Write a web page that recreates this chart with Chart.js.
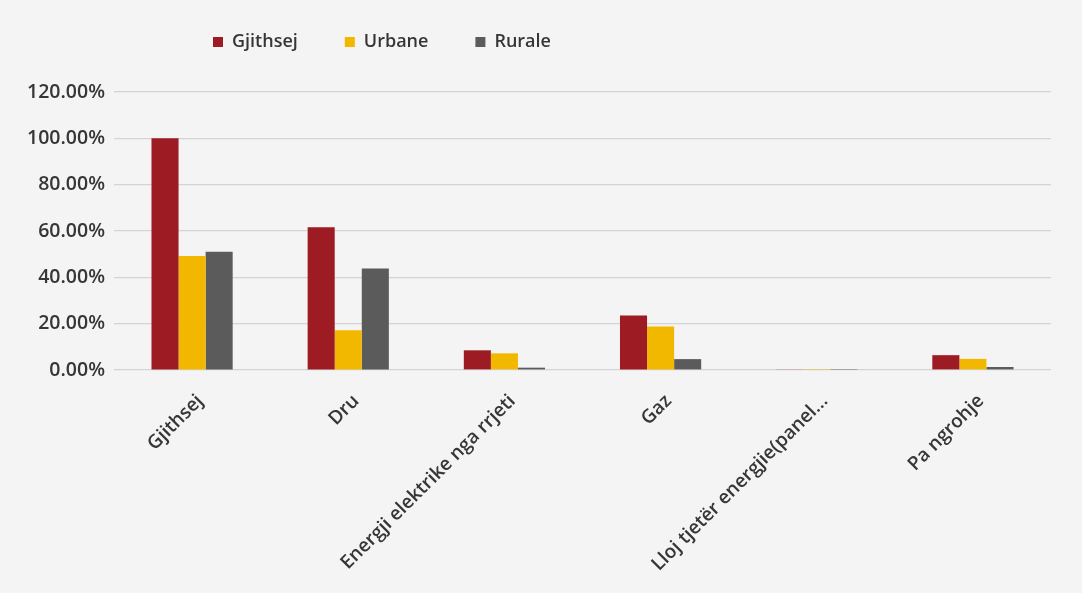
<!DOCTYPE html>
<html>
<head>
<meta charset="utf-8">
<script src="https://cdn.jsdelivr.net/npm/chart.js@4.4.0/dist/chart.umd.min.js"></script>
<style>
  html, body { margin: 0; padding: 0; background: #f4f4f4; }
  #wrap { width: 1082px; height: 593px; position: relative; }
</style>
</head>
<body>
<div id="wrap"><canvas id="c" width="1082" height="593"></canvas></div>
<script>
const categories = ["Gjithsej", "Dru", "Energji elektrike nga rrjeti", "Gaz", "Lloj tjetër energjie(panel...", "Pa ngrohje"];
const seriesNames = ["Gjithsej", "Urbane", "Rurale"];
const gjithsej = [100, 61.6, 8.5, 23.5, 0.2, 6.4];
const urbane = [49.2, 17.2, 7.2, 18.8, 0.1, 4.8];
const rurale = [51, 43.8, 1.0, 4.7, 0.1, 1.3];
const yTicks = [0, 20, 40, 60, 80, 100, 120];
const colors = ["#9d1c24", "#f2b800", "#5b5b5b"];

const FONT = "'Open Sans', sans-serif";
const TXT = "#363636";

const legendShift = {
  id: 'legendShift',
  afterLayout(chart) {
    const l = chart.legend;
    const pad = l.options.labels.padding;
    const dx = 213 - pad - l.left;
    l.left += dx; l.right += dx;
    l.top = 42 - 9 - pad;
  }
};

new Chart(document.getElementById('c'), {
  type: 'bar',
  data: {
    labels: categories,
    datasets: [
      { label: seriesNames[0], data: gjithsej, backgroundColor: colors[0] },
      { label: seriesNames[1], data: urbane, backgroundColor: colors[1] },
      { label: seriesNames[2], data: rurale, backgroundColor: colors[2] }
    ]
  },
  options: {
    responsive: false,
    animation: false,
    devicePixelRatio: 1,
    layout: { padding: { left: 0, right: 31, top: 17, bottom: 0 } },
    datasets: { bar: { barPercentage: 1, categoryPercentage: 0.52 } },
    plugins: {
      legend: {
        position: 'top',
        align: 'start',
        maxHeight: 75,
        labels: {
          boxWidth: 10, boxHeight: 10, padding: 47,
          color: TXT,
          font: { family: FONT, size: 18, weight: '600' }
        }
      },
      tooltip: { enabled: false }
    },
    scales: {
      x: {
        grid: { display: false },
        border: { display: false },
        ticks: {
          color: TXT,
          minRotation: 45, maxRotation: 45,
          autoSkip: false,
          padding: 12,
          labelOffset: 8,
          font: { family: FONT, size: 19, weight: '600' }
        },
        afterFit(scale) { scale.height = 223; }
      },
      y: {
        min: 0, max: 120,
        afterBuildTicks(scale) { scale.ticks = yTicks.map(v => ({ value: v })); },
        grid: { color: '#d4d4d4', drawTicks: false, lineWidth: 1.2 },
        border: { display: false },
        ticks: {
          color: TXT,
          padding: 9,
          font: { family: FONT, size: 19.5, weight: '600' },
          callback: v => v.toFixed(2) + '%'
        },
        afterFit(scale) { scale.width = 114; }
      }
    }
  },
  plugins: [legendShift]
});
</script>
</body>
</html>
